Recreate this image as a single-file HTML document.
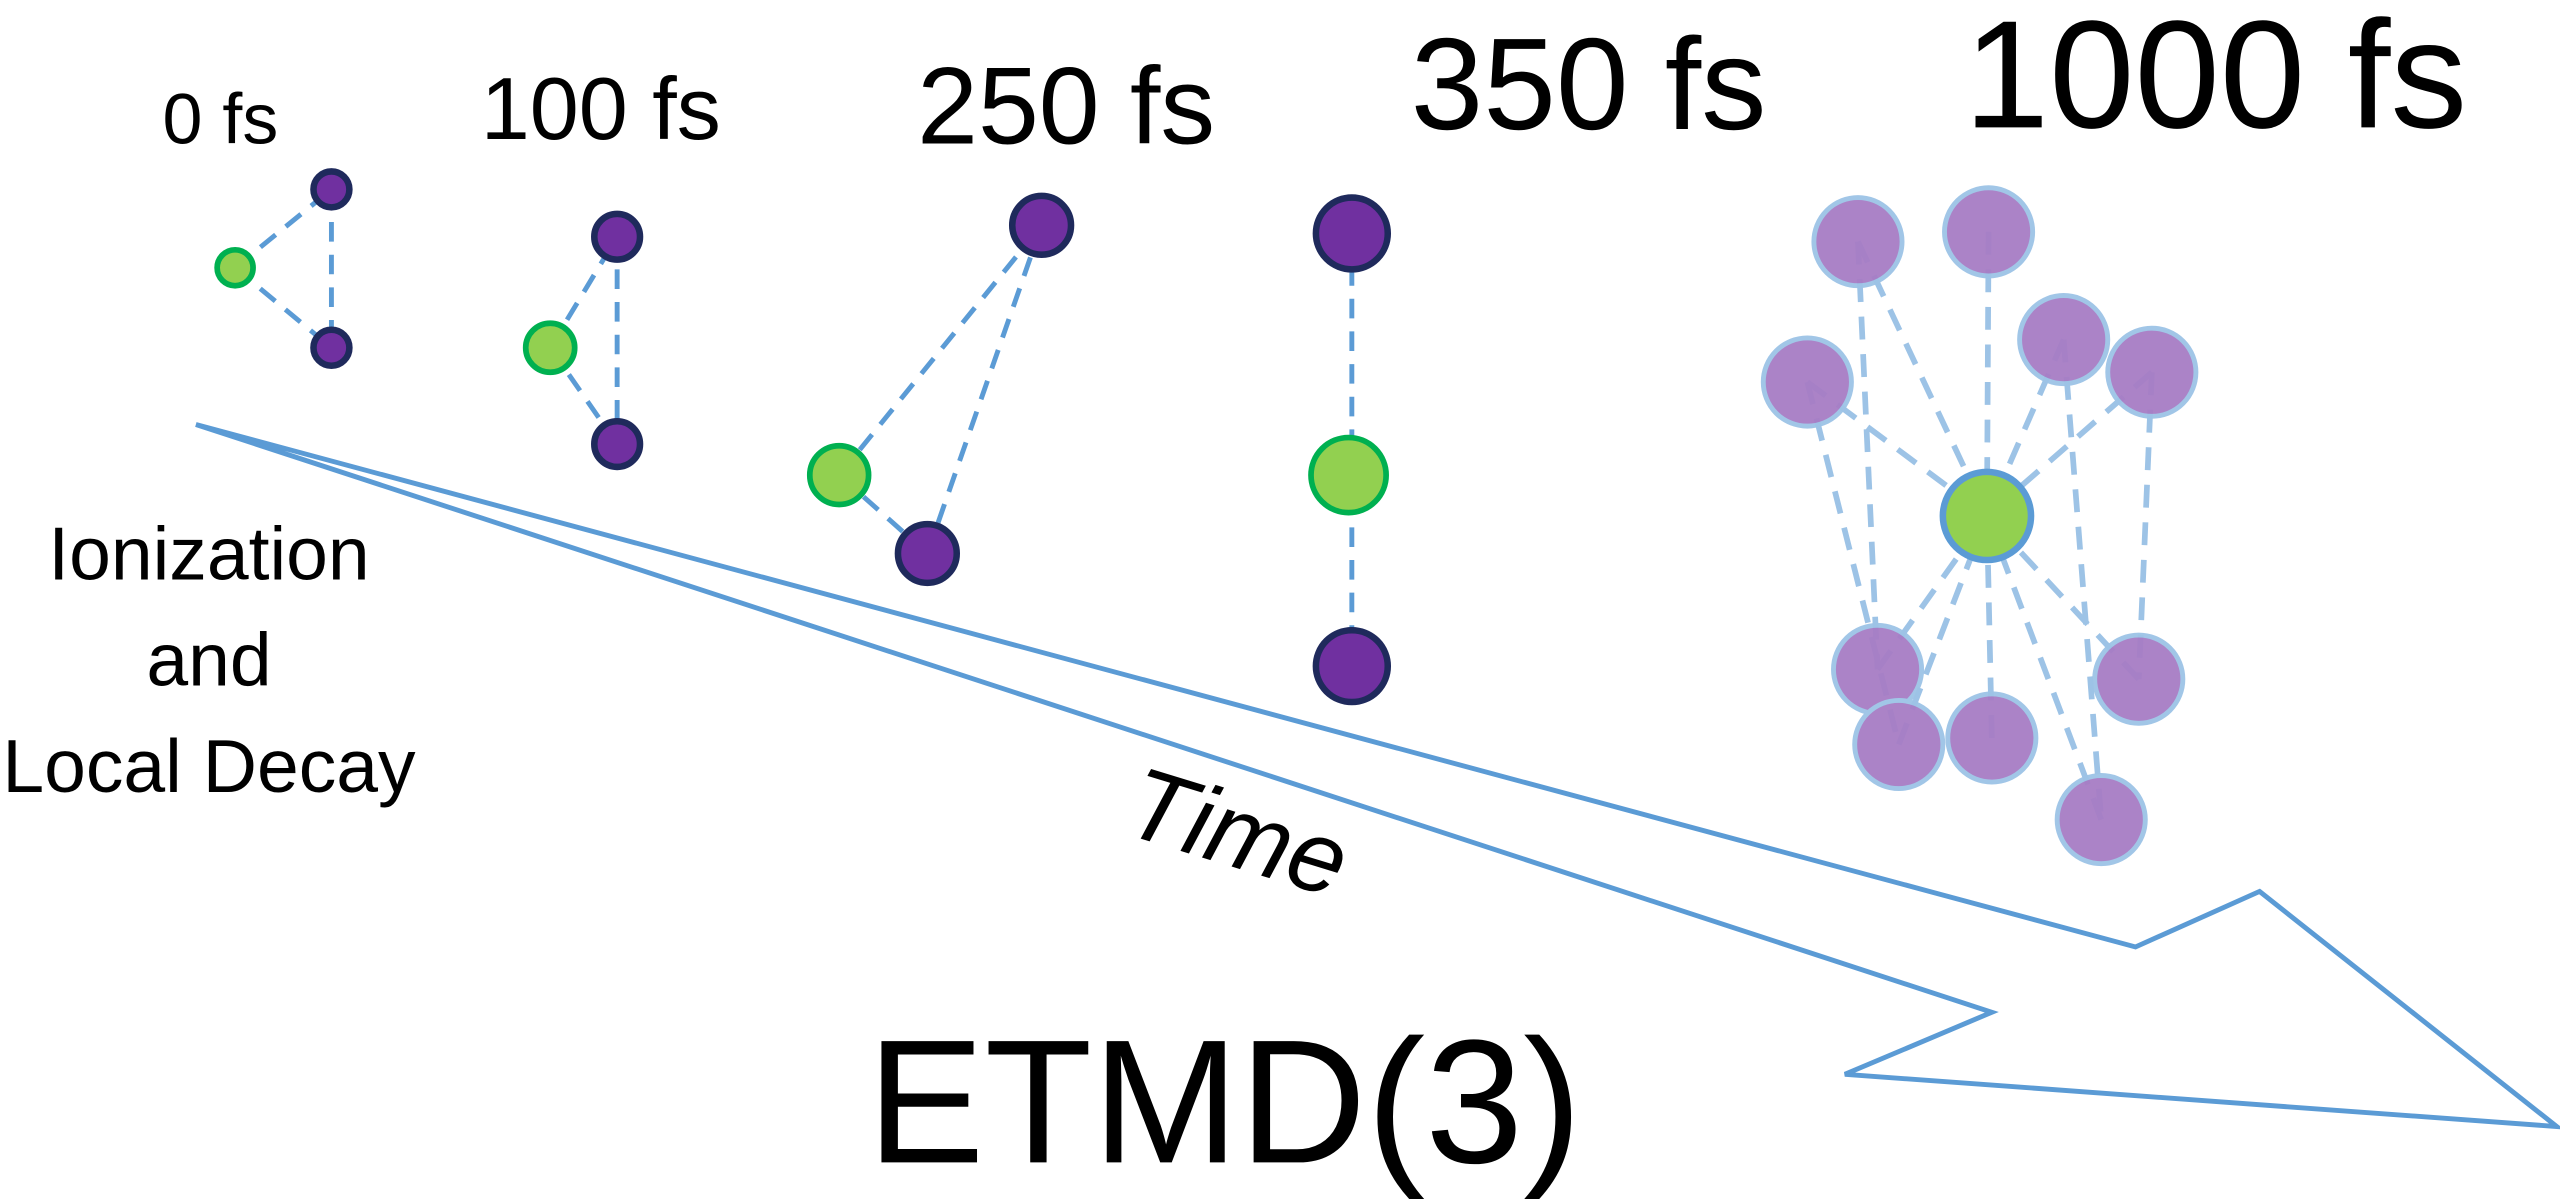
<!DOCTYPE html>
<html><head><meta charset="utf-8"><style>
html,body{margin:0;padding:0;background:#fff;width:2560px;height:1200px;overflow:hidden}
svg{display:block}
text{font-family:"Liberation Sans",sans-serif;fill:#000}
</style></head><body>
<svg width="2560" height="1200" viewBox="0 0 1568 735" xmlns="http://www.w3.org/2000/svg">
<polygon points="120,260 1308,580 1384,546 1566,690 1130,658 1220,620" fill="none" stroke="#5b9bd5" stroke-width="3" stroke-linejoin="miter"/>
<g stroke="#5b9bd5" stroke-width="3" stroke-dasharray="12,8" fill="none">
<line x1="144" y1="164" x2="203" y2="116"/><line x1="144" y1="164" x2="203" y2="213"/><line x1="203" y1="116" x2="203" y2="213"/>
<line x1="337" y1="213" x2="378" y2="145"/><line x1="337" y1="213" x2="378" y2="272"/><line x1="378" y1="145" x2="378" y2="272"/>
<line x1="514" y1="291" x2="638" y2="138"/><line x1="568" y1="339" x2="638" y2="138"/><line x1="514" y1="291" x2="568" y2="339"/>
<line x1="828" y1="143" x2="828" y2="408"/>
</g>
<g stroke="#9dc3e6" stroke-width="3.5" stroke-dasharray="14,9" fill="none">
<line x1="1138" y1="148" x2="1217" y2="316"/><line x1="1218" y1="142" x2="1217" y2="316"/><line x1="1264" y1="208" x2="1217" y2="316"/>
<line x1="1318" y1="228" x2="1217" y2="316"/><line x1="1107" y1="234" x2="1217" y2="316"/><line x1="1150" y1="410" x2="1217" y2="316"/>
<line x1="1163" y1="456" x2="1217" y2="316"/><line x1="1220" y1="452" x2="1217" y2="316"/><line x1="1310" y1="416" x2="1217" y2="316"/>
<line x1="1287" y1="502" x2="1217" y2="316"/><line x1="1107" y1="234" x2="1163" y2="456"/><line x1="1138" y1="148" x2="1150" y2="410"/>
<line x1="1264" y1="208" x2="1287" y2="502"/><line x1="1318" y1="228" x2="1310" y2="416"/>
</g>
<g fill="#7030a0" stroke="#1f2a5c" stroke-width="4">
<circle cx="203" cy="116" r="11"/><circle cx="203" cy="213" r="11"/>
<circle cx="378" cy="145" r="14"/><circle cx="378" cy="272" r="14"/>
<circle cx="638" cy="138" r="18"/><circle cx="568" cy="339" r="18"/>
<circle cx="828" cy="143" r="22"/><circle cx="828" cy="408" r="22"/>
</g>
<g fill="#92d050" stroke="#00b050" stroke-width="3.5">
<circle cx="144" cy="164" r="11"/><circle cx="337" cy="213" r="15"/><circle cx="514" cy="291" r="18"/><circle cx="826" cy="291" r="23"/>
</g>
<g fill="#a77dc5" stroke="#9dc3e6" stroke-width="3" opacity="0.95">
<circle cx="1138" cy="148" r="27"/><circle cx="1218" cy="142" r="27"/><circle cx="1264" cy="208" r="27"/><circle cx="1318" cy="228" r="27"/>
<circle cx="1107" cy="234" r="27"/><circle cx="1150" cy="410" r="27"/><circle cx="1163" cy="456" r="27"/><circle cx="1220" cy="452" r="27"/>
<circle cx="1310" cy="416" r="27"/><circle cx="1287" cy="502" r="27"/>
</g>
<circle cx="1217" cy="316" r="27" fill="#92d050" stroke="#5b9bd5" stroke-width="4"/>
<text x="135" y="88" font-size="44" text-anchor="middle">0 fs</text>
<text x="368" y="85" font-size="54" text-anchor="middle">100 fs</text>
<text x="653" y="88" font-size="67" text-anchor="middle">250 fs</text>
<text x="973" y="79" font-size="80" text-anchor="middle">350 fs</text>
<text x="1357" y="78" font-size="94" text-anchor="middle">1000 fs</text>
<text x="128" y="355" font-size="46" text-anchor="middle">Ionization</text>
<text x="128" y="420" font-size="46" text-anchor="middle">and</text>
<text x="128" y="485" font-size="46" text-anchor="middle">Local Decay</text>
<text x="0" y="0" font-size="62" font-style="italic" text-anchor="middle" transform="translate(752,530) rotate(17)">Time</text>
<text x="750" y="712" font-size="108" text-anchor="middle">ETMD(3)</text>
</svg>
</body></html>
